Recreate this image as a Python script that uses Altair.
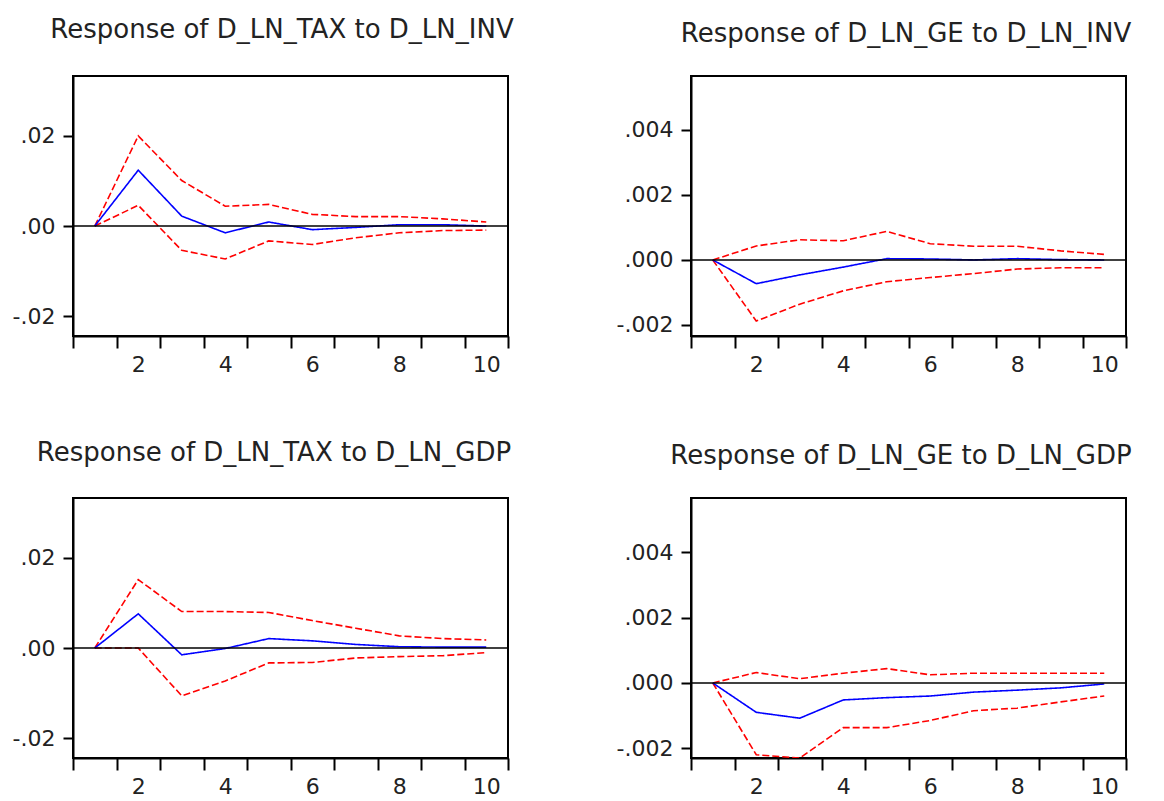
import altair as alt
import pandas as pd

periods = [1, 2, 3, 4, 5, 6, 7, 8, 9, 10]

# Response of D_LN_TAX to D_LN_INV
tax_inv_resp = [0, 0.0124, 0.0022, -0.0015, 0.0009, -0.0008, -0.0003, 0.0003, 0.0003, 0.0]
tax_inv_upper = [0, 0.0200, 0.0101, 0.0044, 0.0048, 0.0026, 0.0021, 0.0021, 0.0016, 0.0009]
tax_inv_lower = [0, 0.0046, -0.0054, -0.0073, -0.0033, -0.0041, -0.0026, -0.0015, -0.0010, -0.0009]

# Response of D_LN_GE to D_LN_INV
ge_inv_resp = [0, -0.00073, -0.00046, -0.00022, 0.00004, 0.00003, 0.0, 0.00004, 0.00001, 0.0]
ge_inv_upper = [0, 0.00043, 0.00062, 0.00059, 0.00088, 0.00050, 0.00042, 0.00042, 0.00028, 0.00017]
ge_inv_lower = [0, -0.00188, -0.00136, -0.00095, -0.00067, -0.00054, -0.00042, -0.00028, -0.00024, -0.00024]

# Response of D_LN_TAX to D_LN_GDP
tax_gdp_resp = [0, 0.0076, -0.0015, -0.0001, 0.0021, 0.0016, 0.0008, 0.0003, 0.0002, 0.0002]
tax_gdp_upper = [0, 0.0152, 0.0081, 0.0081, 0.0079, 0.0061, 0.0044, 0.0027, 0.0021, 0.0018]
tax_gdp_lower = [0, 0.0, -0.0106, -0.0073, -0.0033, -0.0032, -0.0022, -0.0019, -0.0017, -0.0010]

# Response of D_LN_GE to D_LN_GDP
ge_gdp_resp = [0, -0.00090, -0.00108, -0.00052, -0.00045, -0.00040, -0.00028, -0.00022, -0.00015, -0.00003]
ge_gdp_upper = [0, 0.00032, 0.00013, 0.00030, 0.00044, 0.00025, 0.00030, 0.00030, 0.00030, 0.00030]
ge_gdp_lower = [0, -0.00220, -0.00230, -0.00137, -0.00137, -0.00115, -0.00085, -0.00077, -0.00058, -0.00040]

x_tick_values = [0.5, 1.5, 2.5, 3.5, 4.5, 5.5, 6.5, 7.5, 8.5, 9.5, 10.5]

FONT = "DejaVu Sans"
TEXT = "#222222"
W, H = 435, 260


def panel(title, resp, up, lo, ydomain, yticks, decimals, dx, offset):
    rows = []
    for s, vals in (("upper", up), ("lower", lo), ("response", resp)):
        for p, v in zip(periods, vals):
            rows.append({"period": p, "value": v, "series": s})
    df = pd.DataFrame(rows)

    yfmt = "." + str(decimals) + "f"
    x = alt.X(
        "period:Q",
        scale=alt.Scale(domain=[0.5, 10.5], nice=False, zero=False),
        axis=alt.Axis(
            values=x_tick_values,
            labelExpr="((datum.value - 1.5) % 2 == 0) ? format(datum.value + 0.5, 'd') : ''",
            labelOffset=W / 20,
            labelFlush=False,
            labelOverlap=False,
            tickSize=12,
            tickWidth=2,
            tickColor="black",
            domainColor="black",
            domainWidth=2,
            labelPadding=6,
            labelFont=FONT,
            labelFontSize=22,
            labelColor=TEXT,
            grid=False,
            title=None,
        ),
    )
    y = alt.Y(
        "value:Q",
        scale=alt.Scale(domain=ydomain, nice=False, zero=False),
        axis=alt.Axis(
            values=yticks,
            labelExpr="(datum.value < 0 ? '-' : '') + replace(format(abs(datum.value), '"
            + yfmt + "'), '0.', '.')",
            tickSize=10,
            tickWidth=2,
            tickColor="black",
            domainColor="black",
            domainWidth=2,
            labelPadding=8,
            labelFont=FONT,
            labelFontSize=22,
            labelColor=TEXT,
            grid=False,
            title=None,
        ),
    )

    zero = alt.Chart(pd.DataFrame({"z": [0.0]})).mark_rule(
        color="black", strokeWidth=1.5
    ).encode(y=alt.Y("z:Q"))

    lines = alt.Chart(df).mark_line(strokeWidth=1.6, clip=True).encode(
        x=x,
        y=y,
        detail="series:N",
        color=alt.Color(
            "series:N",
            scale=alt.Scale(domain=["response", "upper", "lower"],
                            range=["#0000ff", "#ff0000", "#ff0000"]),
            legend=None,
        ),
        strokeDash=alt.StrokeDash(
            "series:N",
            scale=alt.Scale(domain=["response", "upper", "lower"],
                            range=[[1, 0], [7, 3], [7, 3]]),
            legend=None,
        ),
    )

    return alt.layer(lines, zero).properties(
        width=W,
        height=H,
        title=alt.TitleParams(
            text=title,
            font=FONT,
            fontSize=26,
            fontWeight="normal",
            color=TEXT,
            anchor="middle",
            frame="group",
            baseline="alphabetic",
            offset=offset,
            dx=dx,
        ),
    )


p1 = panel("Response of D_LN_TAX to D_LN_INV", tax_inv_resp, tax_inv_upper, tax_inv_lower,
           [-0.0244, 0.0333], [-0.02, 0.0, 0.02], 2, -8.5, 12)
p3 = panel("Response of D_LN_TAX to D_LN_GDP", tax_gdp_resp, tax_gdp_upper, tax_gdp_lower,
           [-0.0244, 0.0333], [-0.02, 0.0, 0.02], 2, -16.5, 11)
p2 = panel("Response of D_LN_GE to D_LN_INV", ge_inv_resp, ge_inv_upper, ge_inv_lower,
           [-0.00234, 0.00566], [-0.002, 0.0, 0.002, 0.004], 3, -2.5, 8)
p4 = panel("Response of D_LN_GE to D_LN_GDP", ge_gdp_resp, ge_gdp_upper, ge_gdp_lower,
           [-0.0023, 0.00567], [-0.002, 0.0, 0.002, 0.004], 3, -7.5, 8)

chart = alt.concat(
    p1, p2, p3, p4, columns=2, spacing={"row": 162, "column": 183}, bounds="flush"
).properties(
    padding={"left": 11, "top": 16, "right": 5, "bottom": 5},
    background="white",
).configure_view(stroke="black", strokeWidth=2)

chart.save("out.html", embed_options={"renderer": "svg", "actions": False})
